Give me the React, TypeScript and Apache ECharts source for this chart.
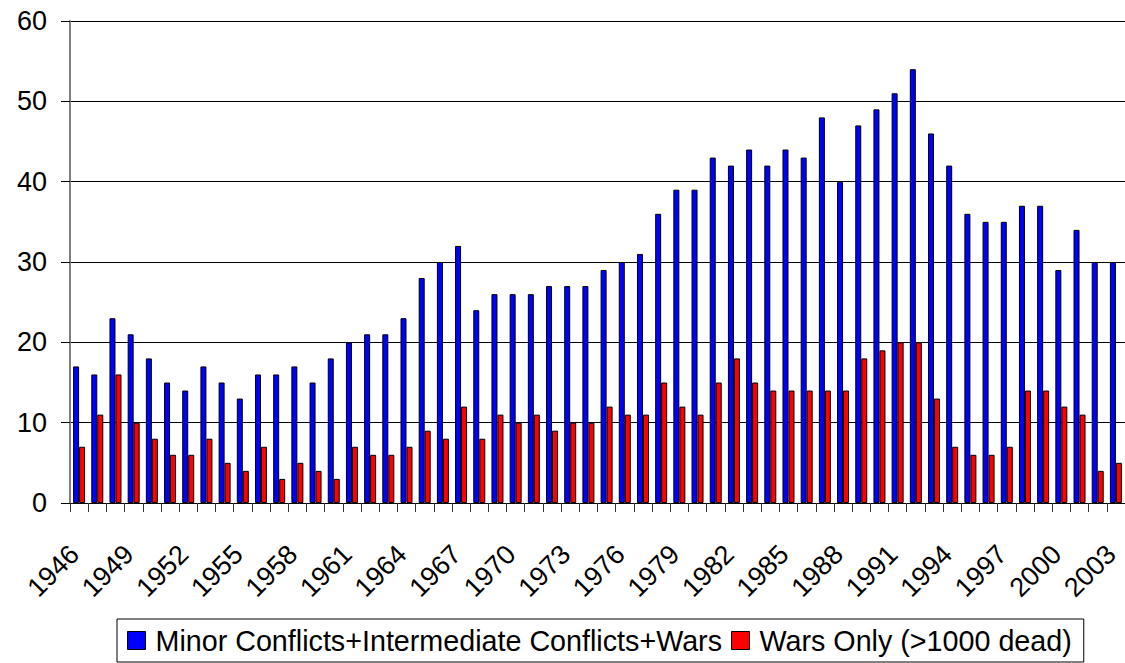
import React, { useEffect, useRef } from "react";
import * as echarts from "echarts";

const years: string[] = [
  "1946","1947","1948","1949","1950","1951","1952","1953","1954","1955",
  "1956","1957","1958","1959","1960","1961","1962","1963","1964","1965",
  "1966","1967","1968","1969","1970","1971","1972","1973","1974","1975",
  "1976","1977","1978","1979","1980","1981","1982","1983","1984","1985",
  "1986","1987","1988","1989","1990","1991","1992","1993","1994","1995",
  "1996","1997","1998","1999","2000","2001","2002","2003",
];

const allConflicts: number[] = [
  17, 16, 23, 21, 18, 15, 14, 17, 15, 13,
  16, 16, 17, 15, 18, 20, 21, 21, 23, 28,
  30, 32, 24, 26, 26, 26, 27, 27, 27, 29,
  30, 31, 36, 39, 39, 43, 42, 44, 42, 44,
  43, 48, 40, 47, 49, 51, 54, 46, 42, 36,
  35, 35, 37, 37, 29, 34, 30, 30,
];

const warsOnly: number[] = [
  7, 11, 16, 10, 8, 6, 6, 8, 5, 4,
  7, 3, 5, 4, 3, 7, 6, 6, 7, 9,
  8, 12, 8, 11, 10, 11, 9, 10, 10, 12,
  11, 11, 15, 12, 11, 15, 18, 15, 14, 14,
  14, 14, 14, 18, 19, 20, 20, 13, 7, 6,
  6, 7, 14, 14, 12, 11, 4, 5,
];

const seriesNames: string[] = [
  "Minor Conflicts+Intermediate Conflicts+Wars",
  "Wars Only (>1000 dead)",
];

const FONT = "'Liberation Sans', Arial, sans-serif";

export default function App() {
  const ref = useRef<HTMLDivElement>(null);

  useEffect(() => {
    if (!ref.current) return;
    const chart = echarts.init(ref.current, null, { renderer: "svg" });
    chart.setOption({
      animation: false,
      backgroundColor: "#ffffff",
      textStyle: { fontFamily: FONT, color: "#000" },
      grid: { left: 70, right: -3, top: 21, bottom: 160, containLabel: false },
      legend: {
        left: 117,
        top: 619,
        orient: "horizontal",
        icon: "rect",
        itemWidth: 18,
        itemHeight: 18,
        itemGap: 9,
        borderColor: "#000",
        borderWidth: 1,
        padding: [7, 12, 7, 10],
        textStyle: {
          fontSize: 28.7,
          fontFamily: FONT,
          color: "#000",
          lineHeight: 28,
          padding: [0, 0, 0, 5],
        },
        itemStyle: { borderColor: "#000", borderWidth: 1 },
        data: seriesNames,
      },
      xAxis: {
        type: "category",
        data: years,
        boundaryGap: true,
        axisLine: { show: true, lineStyle: { color: "#000", width: 1 } },
        axisTick: { show: true, interval: 0, length: 9, lineStyle: { color: "#333" } },
        axisLabel: {
          interval: 2,
          rotate: 45,
          fontSize: 27,
          fontFamily: FONT,
          color: "#000",
          margin: 23,
          align: "right",
          verticalAlign: "top",
          padding: [0, 20, 0, 0],
        },
        splitLine: { show: false },
      },
      yAxis: {
        type: "value",
        min: 0,
        max: 60,
        interval: 10,
        axisLine: { show: true, lineStyle: { color: "#808080", width: 2 } },
        axisTick: { show: true, length: 9, lineStyle: { color: "#000" } },
        axisLabel: { fontSize: 27, fontFamily: FONT, color: "#000", margin: 23 },
        splitLine: { show: true, lineStyle: { color: "#000", width: 1 } },
      },
      series: [
        {
          name: seriesNames[0],
          type: "bar",
          data: allConflicts,
          barWidth: 6,
          barGap: "0%",
          itemStyle: { color: "#0000ff", borderColor: "#000", borderWidth: 1 },
        },
        {
          name: seriesNames[1],
          type: "bar",
          data: warsOnly,
          barWidth: 6,
          barGap: "0%",
          itemStyle: { color: "#ff0000", borderColor: "#000", borderWidth: 1 },
        },
      ],
    });
    return () => chart.dispose();
  }, []);

  return (
    <div
      ref={ref}
      style={{ position: "absolute", left: 0, top: 0, width: 1125, height: 663, background: "#fff" }}
    />
  );
}
